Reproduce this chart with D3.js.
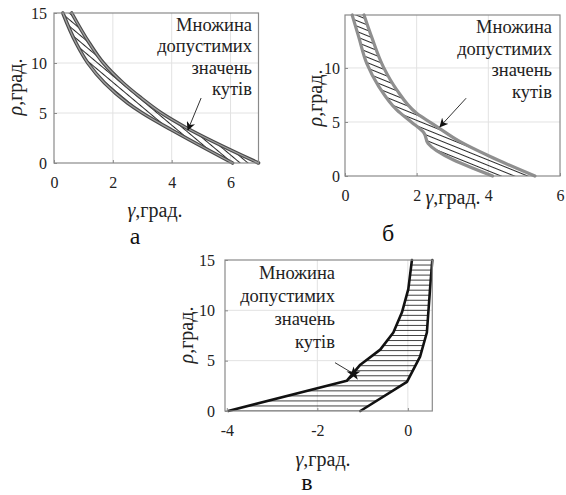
<!DOCTYPE html>
<html>
<head>
<meta charset="utf-8">
<script src="https://cdn.jsdelivr.net/npm/d3@7"></script>
<style>
body { margin: 0; background: #fff; }
</style>
</head>
<body>
<svg id="mainsvg" width="566" height="495"></svg>
<script>
// ---- data (gamma, rho in degrees) ----
// panel а
const aLowGamma = [0.3, 0.75, 1.15, 1.72, 2.5, 3.0, 4.0, 6.07];
const aLowRho   = [15, 12, 10, 8, 6, 5, 3.3, 0];
const aUpGamma  = [0.6, 1.2, 1.68, 2.35, 2.92, 3.65, 4.45, 6.95];
const aUpRho    = [15, 12, 10, 8, 6.6, 5, 3.6, 0];
const aArrow    = [[5.0, 6.5], [4.55, 3.3]];
// panel б
const bLowGamma = [0.2, 0.38, 0.61, 0.94, 1.45, 1.85, 2.2, 2.32, 4.12];
const bLowRho   = [14.9, 12.9, 10.4, 8.3, 6.1, 5.0, 4.0, 3.0, 0];
const bUpGamma  = [0.53, 0.74, 1.07, 1.44, 2.0, 2.55, 3.2, 4.05, 5.3];
const bUpRho    = [14.9, 12.9, 10.1, 8.0, 5.8, 4.6, 3.2, 1.8, 0];
const bArrow    = [[3.38, 7.2], [2.65, 4.56]];
// panel в
const vLeftGamma  = [-3.97, -1.35, -1.05, -0.61, -0.32, -0.13, 0.01, 0.09];
const vLeftRho    = [0, 3.0, 4.6, 6.1, 7.8, 9.8, 12.1, 15];
const vRightGamma = [-1.05, -0.02, 0.27, 0.42, 0.49, 0.54];
const vRightRho   = [0, 2.9, 5.4, 7.8, 12.1, 15];
const vArrow      = [[-1.61, 4.8], [-1.2, 3.7]];

const noteLines = ["Множина", "допустимих", "значень", "кутів"];

const serif = 'Liberation Serif';

let svg = d3.select('#mainsvg');
let defs = svg.append('defs');

defs.append('marker')
  .attr('id', 'arrowhead')
  .attr('viewBox', '0 0 10 10')
  .attr('refX', 9).attr('refY', 5)
  .attr('markerWidth', 9).attr('markerHeight', 9)
  .attr('markerUnits', 'userSpaceOnUse')
  .attr('orient', 'auto')
  .append('path').attr('d', 'M0,0L10,5L0,10L3,5Z').attr('fill', '#111');

function hatch(id, angle, gap) {
  let p = defs.append('pattern')
    .attr('id', id)
    .attr('patternUnits', 'userSpaceOnUse')
    .attr('width', 20).attr('height', gap)
    .attr('patternTransform', `rotate(${angle})`);
  p.append('line').attr('x1', 0).attr('x2', 20)
    .attr('y1', 0.5).attr('y2', 0.5)
    .attr('stroke', '#111').attr('stroke-width', 0.9);
}

function txt(sel, size) {
  return sel.style('font-family', serif).style('font-size', size + 'px').style('fill', '#222');
}

const zip = (g, r) => g.map((v, i) => [v, r[i]]);

function drawPanel(c) {
  let x = d3.scaleLinear().domain(c.xd).range([c.box[0], c.box[2]]);
  let y = d3.scaleLinear().domain(c.yd).range([c.box[3], c.box[1]]);
  let w = c.box[2] - c.box[0], h = c.box[3] - c.box[1];
  let g = svg.append('g');

  // grid
  g.selectAll('.gx').data(c.xGrid).enter().append('line')
    .attr('x1', d => x(d)).attr('x2', d => x(d))
    .attr('y1', c.box[1]).attr('y2', c.box[3])
    .attr('stroke', '#e2e2e2').attr('stroke-width', 1);
  g.selectAll('.gy').data(c.yGrid).enter().append('line')
    .attr('y1', d => y(d)).attr('y2', d => y(d))
    .attr('x1', c.box[0]).attr('x2', c.box[2])
    .attr('stroke', '#e2e2e2').attr('stroke-width', 1);

  // hatched band
  let line = d3.line().x(d => x(d[0])).y(d => y(d[1])).curve(c.curve);
  let bandPath = line(c.low) + 'L' + line(c.up.slice().reverse()).slice(1) + 'Z';
  if (c.fill === 'horiz') {
    let cid = 'clip' + c.id;
    defs.append('clipPath').attr('id', cid)
      .append('path').attr('d', bandPath);
    g.append('g').attr('clip-path', `url(#${cid})`)
      .selectAll('line').data(d3.range(0, 15.01, 0.5)).enter().append('line')
      .attr('x1', c.box[0]).attr('x2', c.box[2])
      .attr('y1', d => y(d)).attr('y2', d => y(d))
      .attr('stroke', '#111').attr('stroke-width', 0.8);
  } else {
    g.append('path').attr('d', bandPath)
      .attr('fill', `url(#${c.fill})`).attr('stroke', 'none');
  }

  // boundaries
  [c.low, c.up].forEach(pts => {
    c.strokes.forEach(s => {
      g.append('path').attr('d', line(pts))
        .attr('fill', 'none').attr('stroke', s[0]).attr('stroke-width', s[1])
        .attr('stroke-linejoin', 'round').attr('stroke-linecap', 'round');
    });
  });

  // box
  g.append('rect').attr('x', c.box[0]).attr('y', c.box[1])
    .attr('width', w).attr('height', h)
    .attr('fill', 'none').attr('stroke', '#8a8a8a').attr('stroke-width', 1.2);

  // axes
  let xa = g.append('g').attr('transform', `translate(0,${c.box[3]})`)
    .call(d3.axisBottom(x).tickValues(c.xt).tickFormat(d => String(d)).tickSize(-3).tickPadding(c.xPad));
  let ya = g.append('g').attr('transform', `translate(${c.box[0]},0)`)
    .call(d3.axisLeft(y).tickValues(c.yt).tickFormat(d => String(d)).tickSize(-3).tickPadding(c.yPad));
  [xa, ya].forEach(a => {
    a.select('.domain').remove();
    a.selectAll('line').attr('stroke', '#8a8a8a');
    txt(a.selectAll('text'), 16);
  });

  // axis labels
  let xl = txt(g.append('text'), 20).attr('x', c.xLab[0]).attr('y', c.xLab[1])
    .attr('text-anchor', 'middle');
  xl.append('tspan').style('font-style', 'italic').text('γ');
  xl.append('tspan').text(',град.');
  let yl = txt(g.append('text'), 20)
    .attr('transform', `translate(${c.yLab[0]},${c.yLab[1]}) rotate(-90)`)
    .attr('text-anchor', 'middle');
  yl.append('tspan').style('font-style', 'italic').text('ρ');
  yl.append('tspan').text(',град.');

  // note
  txt(g.selectAll('.note').data(noteLines).enter().append('text'), 18.5)
    .attr('x', c.note[0]).attr('y', (d, i) => c.note[1] + i * c.note[2])
    .attr('text-anchor', 'end').text(d => d);

  // arrow
  let ar = g.append('line')
    .attr('x1', x(c.arrow[0][0])).attr('y1', y(c.arrow[0][1]))
    .attr('x2', x(c.arrow[1][0])).attr('y2', y(c.arrow[1][1]))
    .attr('stroke', '#333').attr('stroke-width', 1);
  if (c.star) {
    g.append('path').attr('d', d3.symbol(d3.symbolStar, 60)())
      .attr('transform', `translate(${x(c.arrow[1][0])},${y(c.arrow[1][1])})`)
      .attr('fill', '#111');
  } else {
    ar.attr('marker-end', 'url(#arrowhead)');
  }

  // panel letter
  txt(g.append('text'), 24).attr('x', c.letter[0]).attr('y', c.letter[1])
    .attr('text-anchor', 'middle').style('fill', '#111')
    .text(c.letter[2]);
}

hatch('hatchA', 40, 5);
hatch('hatchB', 22, 5);

drawPanel({
  id: 'a', box: [54, 13, 258.5, 163], xd: [0, 6.95], yd: [0, 15],
  xt: [0, 2, 4, 6], yt: [0, 5, 10, 15], xGrid: [2, 4, 6], yGrid: [5, 10],
  xPad: 14, yPad: 7, curve: d3.curveMonotoneY,
  low: zip(aLowGamma, aLowRho), up: zip(aUpGamma, aUpRho), arrow: aArrow,
  fill: 'hatchA', strokes: [['#4a4a4a', 3.6], ['#a0a0a0', 1.3]],
  xLab: [155, 217], yLab: [22, 87], note: [252, 31, 21.3], letter: [135, 244, 'а']
});

drawPanel({
  id: 'b', box: [345, 15, 560, 176], xd: [0, 6], yd: [0, 14.9],
  xt: [0, 2, 4, 6], yt: [0, 5, 10], xGrid: [2, 4], yGrid: [5, 10],
  xPad: 14, yPad: 5, curve: d3.curveMonotoneY,
  low: zip(bLowGamma, bLowRho), up: zip(bUpGamma, bUpRho), arrow: bArrow,
  fill: 'hatchB', strokes: [['#8f8f8f', 3.2]],
  xLab: [453, 204], yLab: [322, 98], note: [552, 33, 21.5], letter: [388, 241, 'б']
});

drawPanel({
  id: 'v', box: [225, 260, 432.3, 411], xd: [-4.04, 0.54], yd: [0, 15],
  xt: [-4, -2, 0], yt: [0, 5, 10, 15], xGrid: [-2, 0], yGrid: [5, 10],
  xPad: 14, yPad: 10, curve: d3.curveLinear,
  low: zip(vLeftGamma, vLeftRho), up: zip(vRightGamma, vRightRho), arrow: vArrow,
  fill: 'horiz', strokes: [['#111', 2.6]], star: true,
  xLab: [323, 466], yLab: [193, 335], note: [335, 279, 23], letter: [307, 490, 'в']
});
</script>
</body>
</html>
